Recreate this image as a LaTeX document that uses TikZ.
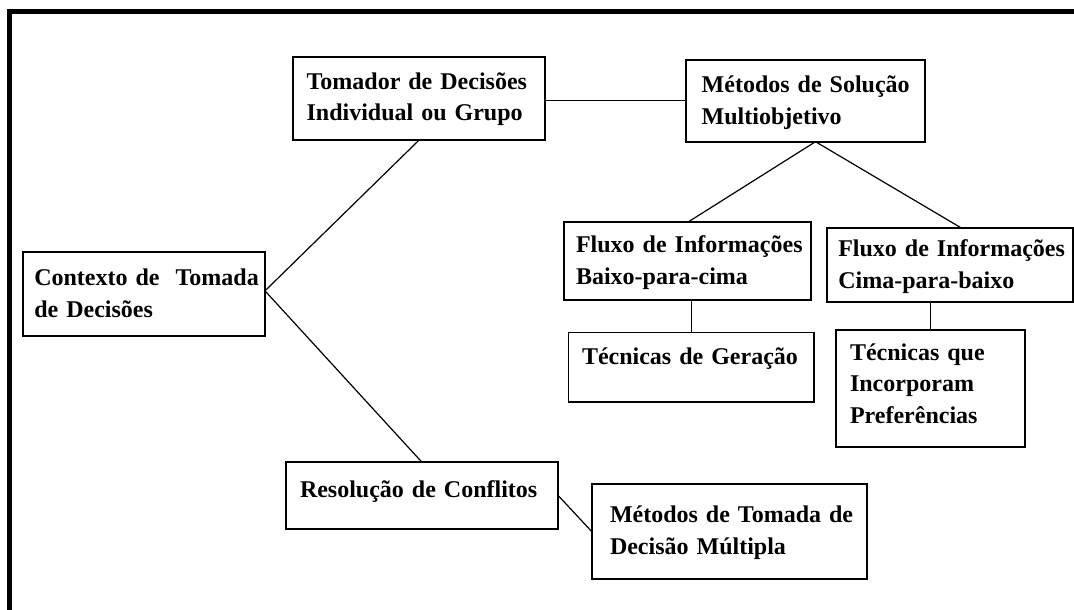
\documentclass[tikz,border=0pt]{standalone}
\usepackage{fontspec}
\setmainfont{Liberation Serif}
\usepackage{tikz}
\usetikzlibrary{positioning}
\tikzset{caixa/.style={draw, line width=1.8pt, anchor=north west,
inner sep=0pt, outer sep=0pt, align=left,
font=\bfseries\fontsize{24}{31.5}\selectfont},
recuo/.style={execute at begin node={\leftskip=#1\relax}}}

\begin{document}
\begin{tikzpicture}[x=1pt, y=-1pt, liga/.style={line width=1.2pt}]
	\useasboundingbox (0,0) rectangle (1074,610);
	\draw[line width=5pt] (9.5,610) -- (9.5,11.5) -- (1074,11.5);

	\node[caixa, recuo=11pt, text width=241.7pt, text height=34pt, text depth=50.3pt] (ctx) at (23.3,251.7)
		{Contexto de\ \ Tomada\\de Decisões};
	\node[caixa, recuo=13.3pt, text width=251.7pt, text height=32pt, text depth=50.7pt] (tom) at (293.3,57.3)
		{Tomador de Decisões\\Individual ou Grupo};
	\node[caixa, recuo=15.7pt, text width=239pt, text height=32.7pt, text depth=49pt] (msol) at (686,60)
		{Métodos de Solução\\Multiobjetivo};
	\node[caixa, recuo=11.7pt, text width=246.7pt, text height=30.4pt, text depth=47.3pt] (fb) at (564.3,222.3)
		{Fluxo de Informações\\Baixo-para-cima};
	\node[caixa, recuo=11.6pt, text width=246.3pt, text height=28.4pt, text depth=45.3pt] (fc) at (826.7,228.3)
		{Fluxo de Informações\\Cima-para-baixo};
	\node[caixa, recuo=13.5pt, text width=245.5pt, text height=31.5pt, text depth=38pt] (tg) at (568.5,332.5)
		{Técnicas de Geração};
	\node[caixa, recuo=14pt, text width=189pt, text height=30pt, text depth=86.7pt] (ti) at (836,330)
		{Técnicas que\\Incorporam\\Preferências};
	\node[caixa, recuo=14.3pt, text width=272.6pt, text height=35pt, text depth=31.7pt] (res) at (285.7,462.3)
		{Resolução de Conflitos};
	\node[caixa, recuo=18.3pt, text width=275pt, text height=38.4pt, text depth=56pt] (mtd) at (591.7,484.3)
		{Métodos de Tomada de\\Decisão Múltipla};

	\draw[liga] ([yshift=3pt]ctx.east) -- (tom.south);
	\draw[liga] ([yshift=3pt]ctx.east) -- (res.north);
	\draw[liga] (msol.west -| tom.east) -- (msol.west);
	\draw[liga] ([xshift=10pt]msol.south) -- (fb.north);
	\draw[liga] ([xshift=10pt]msol.south) -- ([xshift=12pt]fc.north);
	\draw[liga] (tg.north |- fb.south) -- (tg.north);
	\draw[liga] (ti.north |- fc.south) -- (ti.north);
	\draw[liga] (res.east) -- (mtd.west);
\end{tikzpicture}
\end{document}
